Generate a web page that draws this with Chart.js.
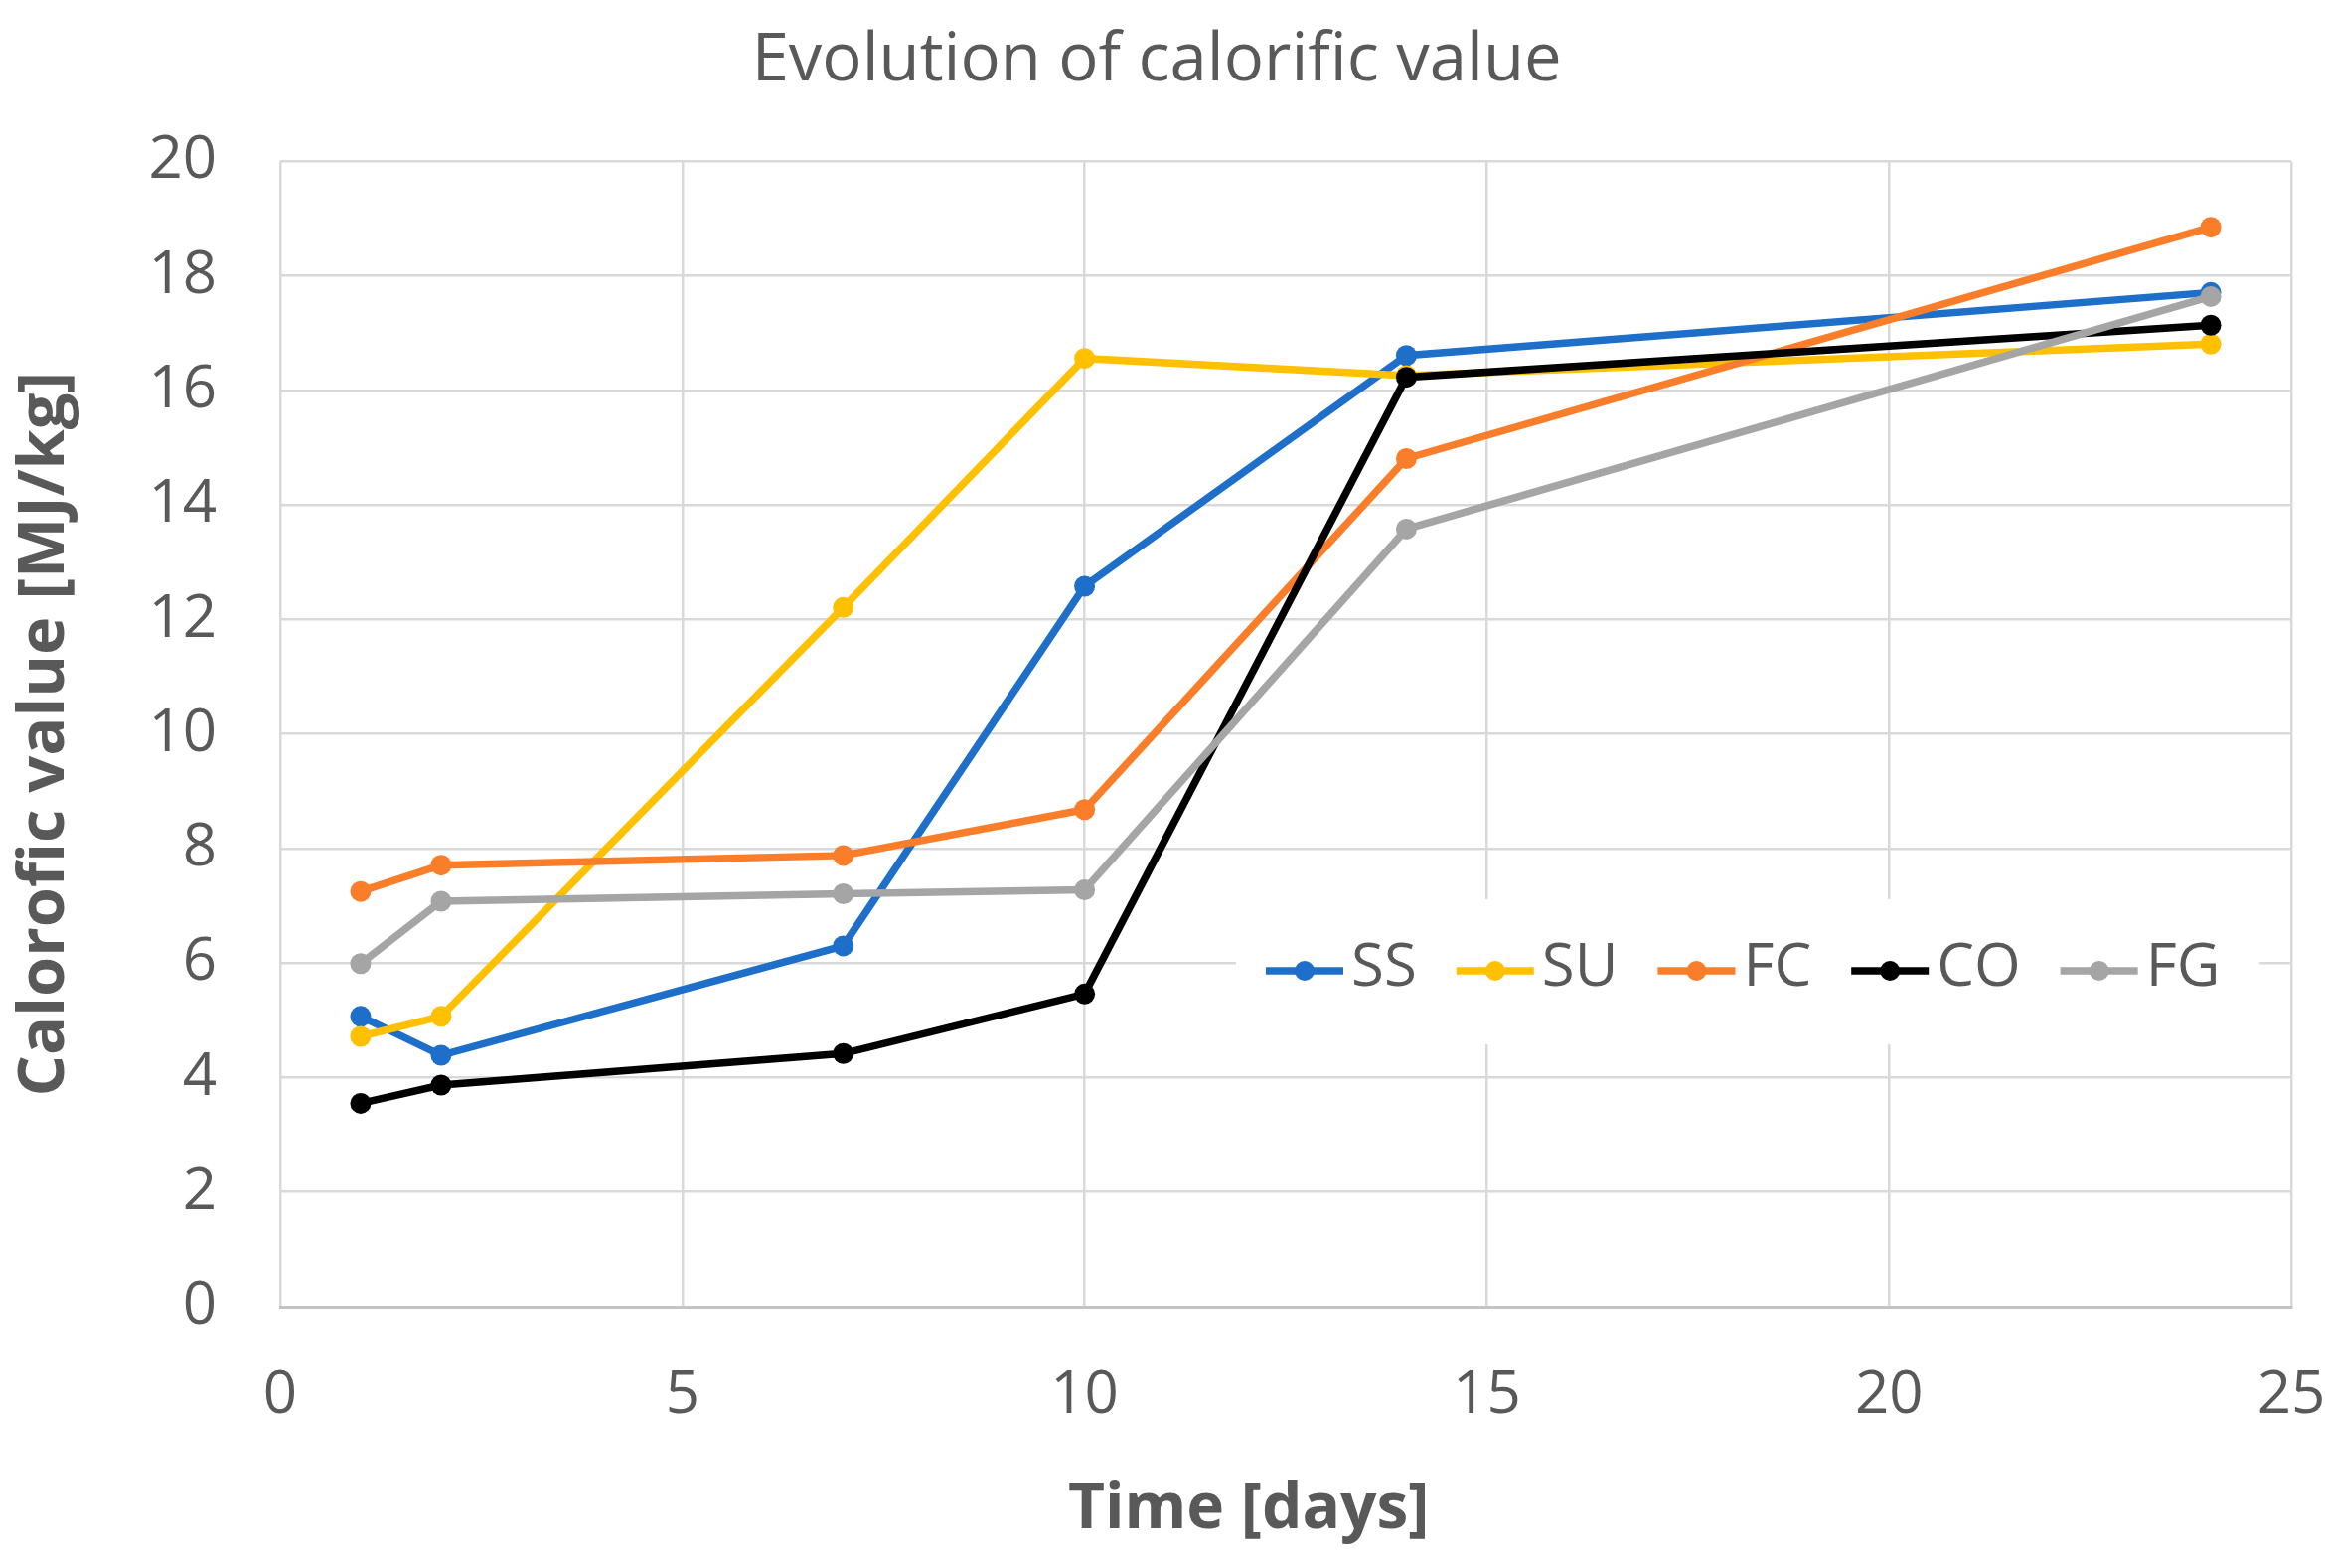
<!DOCTYPE html>
<html lang="en">
<head>
<meta charset="UTF-8">
<title>Evolution of calorific value</title>
<style>
  html, body { margin: 0; padding: 0; background: #fff; }
  #wrap { width: 2340px; height: 1578px; }
</style>
</head>
<body>
<div id="wrap"><canvas id="calChart" width="2340" height="1578"></canvas></div>
<script src="https://cdn.jsdelivr.net/npm/chart.js"></script>
<script>
// data
const days = [1, 2, 7, 10, 14, 24];
const seriesNames = ['SS', 'SU', 'FC', 'CO', 'FG'];
const ssValues = [5.07, 4.39, 6.30, 12.58, 16.61, 17.71];
const suValues = [4.72, 5.07, 12.21, 16.56, 16.26, 16.81];
const fcValues = [7.25, 7.71, 7.88, 8.68, 14.81, 18.85];
const coValues = [3.55, 3.87, 4.42, 5.46, 16.23, 17.14];
const fgValues = [5.99, 7.08, 7.21, 7.28, 13.58, 17.64];
const xTicks = [0, 5, 10, 15, 20, 25];
const yTicks = [0, 2, 4, 6, 8, 10, 12, 14, 16, 18, 20];

const seriesValues = [ssValues, suValues, fcValues, coValues, fgValues];
const seriesColors = ['#1e6fc9', '#ffc000', '#fa7d2a', '#000000', '#a5a5a5'];
const textColor = '#595959';

// legend sits inside the plot, on a white box
const insideLegend = {
    id: 'insideLegend',
    afterDatasetsDraw(chart) {
        const ctx = chart.ctx;
        const sets = chart.data.datasets;
        const lineLen = 78, gapText = 8, gapItem = 40;
        ctx.save();
        ctx.font = '60px "Open Sans"';
        let total = 0;
        sets.forEach(ds => { total += lineLen + gapText + ctx.measureText(ds.label).width; });
        total += gapItem * (sets.length - 1);
        const startX = 1274, cy = 977;
        ctx.fillStyle = '#ffffff';
        ctx.fillRect(startX - 30, cy - 72, total + 70, 146);
        let x = startX;
        ctx.textBaseline = 'middle';
        sets.forEach(ds => {
            ctx.strokeStyle = ds.borderColor;
            ctx.lineWidth = 7.5;
            ctx.beginPath();
            ctx.moveTo(x, cy);
            ctx.lineTo(x + lineLen, cy);
            ctx.stroke();
            ctx.fillStyle = ds.borderColor;
            ctx.beginPath();
            ctx.arc(x + lineLen / 2, cy, 10, 0, Math.PI * 2);
            ctx.fill();
            x += lineLen + gapText;
            ctx.fillStyle = textColor;
            ctx.fillText(ds.label, x, cy - 2);
            x += ctx.measureText(ds.label).width + gapItem;
        });
        ctx.restore();
    }
};

const datasets = seriesNames.map((name, i) => ({
    label: name,
    data: days.map((d, j) => ({ x: d, y: seriesValues[i][j] })),
    borderColor: seriesColors[i],
    backgroundColor: seriesColors[i],
    pointBackgroundColor: seriesColors[i],
    pointBorderWidth: 0,
    pointRadius: 10.5,
    borderWidth: 7.5,
    tension: 0,
    order: seriesNames.length - i
}));

new Chart(document.getElementById('calChart').getContext('2d'), {
    type: 'line',
    data: { datasets: datasets },
    options: {
        responsive: false,
        animation: false,
        devicePixelRatio: 1,
        layout: { padding: { left: 0, right: 34, top: 0, bottom: 0 } },
        scales: {
            x: {
                type: 'linear',
                min: 0,
                max: 25,
                afterBuildTicks: s => { s.ticks = xTicks.map(v => ({ value: v })); },
                afterFit: s => { s.height = 263; s.paddingLeft = 0; s.paddingRight = 0; },
                ticks: { color: textColor, font: { family: 'Open Sans', size: 60 }, padding: 54 },
                grid: { color: '#d9d9d9', lineWidth: 2.5, drawTicks: false },
                border: { color: '#c4c4c4', width: 3 },
                title: {
                    display: true,
                    text: 'Time [days]\u2003\u2009',
                    color: textColor,
                    font: { family: 'Open Sans', size: 64, weight: 'bold' },
                    padding: { top: 0, bottom: 20 }
                }
            },
            y: {
                min: 0,
                max: 20,
                afterBuildTicks: s => { s.ticks = yTicks.map(v => ({ value: v })); },
                afterFit: s => { s.width = 282; s.paddingTop = 0; s.paddingBottom = 0; },
                ticks: { color: textColor, font: { family: 'Open Sans', size: 60 }, padding: 64 },
                grid: { color: '#d9d9d9', lineWidth: 2.5, drawTicks: false },
                border: { display: false },
                title: {
                    display: true,
                    text: 'Calorofic value [MJ/kg]',
                    color: textColor,
                    font: { family: 'Open Sans', size: 65, weight: 'bold' },
                    padding: { top: 6, bottom: 0 }
                }
            }
        },
        plugins: {
            legend: { display: false },
            tooltip: { enabled: false },
            title: {
                display: true,
                text: '\u2009\u2009Evolution of calorific value',
                color: textColor,
                font: { family: 'Open Sans', size: 67, weight: 'normal' },
                padding: { top: 22, bottom: 60 }
            }
        }
    },
    plugins: [insideLegend]
});
</script>
</body>
</html>
